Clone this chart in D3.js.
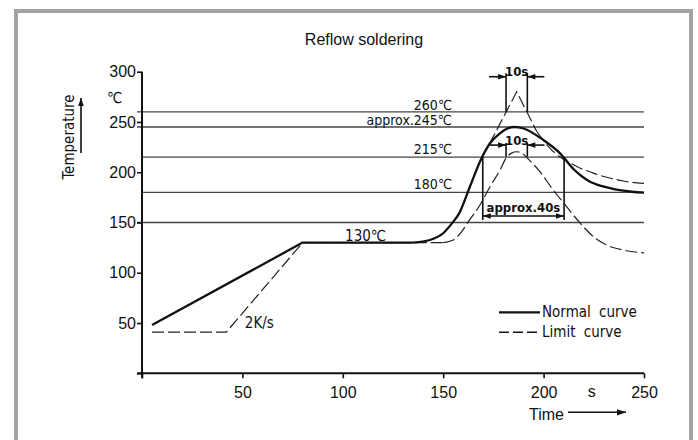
<!DOCTYPE html>
<html>
<head>
<meta charset="utf-8">
<script src="https://cdn.jsdelivr.net/npm/d3@7"></script>
<style>
  body { margin: 0; background: #fff; }
  svg { display: block; }
  .tick text { font-family: "Liberation Sans", Arial, sans-serif; font-size: 16px; fill: #111; }
  .note { font-family: "DejaVu Sans Condensed", "DejaVu Sans", sans-serif; font-size: 15px; fill: #111; }
  .level-note { font-size: 14px; }
</style>
</head>
<body>
<script>
// tick values
const xTicks = [0, 50, 100, 150, 200, 250];
const yTicks = [0, 50, 100, 150, 200, 250, 300];

// reference temperature levels and their labels
const levels = [260, 245, 215, 180, 150];
const levelLabels = [
  {t: 260, text: "260℃"},
  {t: 245, text: "approx.245℃"},
  {t: 215, text: "215℃"},
  {t: 180, text: "180℃"}
];

// normal curve: straight preheat part, then the smooth reflow part
const normalRamp = [[5, 48], [80, 130], [135, 130]];
const normalReflow = [[135, 130], [143.4, 132.6], [150, 139.3], [155, 150.8], [157.5, 157.5], [163.3, 185.6],
  [168.3, 210.5], [173.3, 228.8], [178.3, 238.7], [181, 242.5], [185.5, 245], [190, 243.5], [199.9, 232],
  [208.2, 218.8], [215, 203], [219, 196], [223.1, 190.6], [227, 187.5], [231.4, 185], [235, 183.2],
  [239.7, 181.6], [244, 180.6], [250, 179.8]];

// limit curve, upper branch (sharp peak, then tail)
const limitUpperPeak = [[173, 228], [186.6, 280], [196.6, 240.5]];
const limitUpperTail = [[196.6, 240.5], [203.2, 223.8], [208, 215.5], [213.5, 209], [218, 204.2],
  [223.1, 200.5], [227, 197.6], [231.4, 195], [235, 193.2], [239.7, 191.3], [244, 190], [250, 189]];

// limit curve, lower branch
const limitLowerRamp = [[5, 41], [42, 41], [80, 130], [150, 130]];
const limitLowerReflow = [[150, 130], [155, 132.6], [159.2, 140.9], [162.5, 150.8], [168.3, 167.4],
  [173.3, 185.6], [178.3, 202.2], [181.3, 214], [184, 219], [186.6, 220.4], [189.2, 219], [191.9, 214],
  [198.2, 200.5], [204.8, 182.3], [211.5, 165.7], [218.3, 149.2], [224.8, 135.9], [231.4, 127.6],
  [239.7, 122.6], [250, 119.8]];

// time windows marked on the chart
const peakWindow = [181.3, 191.9];
const liquidWindow = [169.7, 210.2];

const width = 698, height = 440;

const svg = d3.select("body").append("svg")
  .attr("width", width)
  .attr("height", height);

// grey frame, open at the bottom
svg.append("rect")
  .attr("x", 16).attr("y", 11)
  .attr("width", 675).attr("height", 450)
  .attr("fill", "none")
  .attr("stroke", "#a3a3a3")
  .attr("stroke-width", 4);

const x = d3.scaleLinear().domain([0, 250]).range([142, 644]);
const y = d3.scaleLinear().domain([0, 300]).range([373.3, 71.7]);

// title
svg.append("text")
  .attr("x", 364).attr("y", 45)
  .attr("text-anchor", "middle")
  .attr("font-family", "Liberation Sans, Arial, sans-serif")
  .attr("font-size", 16)
  .attr("fill", "#111")
  .text("Reflow soldering");

// horizontal level lines
svg.selectAll("line.level")
  .data(levels)
  .enter()
  .append("line")
  .attr("class", "level")
  .attr("x1", d => (d === 215 || d === 180) ? x(0) : x(0) - 5)
  .attr("x2", x(250))
  .attr("y1", d => y(d))
  .attr("y2", d => y(d))
  .attr("stroke", "#444")
  .attr("stroke-width", 1.4);

// axes
const xAxis = svg.append("g")
  .attr("transform", `translate(0,${y(0)})`)
  .call(d3.axisBottom(x).tickValues(xTicks).tickSize(5).tickPadding(8)
    .tickFormat(d => d === 0 ? "" : d));
const yAxis = svg.append("g")
  .attr("transform", `translate(${x(0)},0)`)
  .call(d3.axisLeft(y).tickValues(yTicks).tickSize(5).tickPadding(1)
    .tickFormat(d => d === 0 ? "" : d));

[xAxis, yAxis].forEach(g => {
  g.select(".domain").attr("stroke", "#111").attr("stroke-width", 2);
  g.selectAll(".tick line").attr("stroke", "#111").attr("stroke-width", 1.6);
});
xAxis.select(".domain").attr("d", `M${x(0) - 5},0H${x(250)}`);
yAxis.select(".domain").attr("d", `M0,${y(300)}V${y(0) + 5}`);

// curves
const straight = d3.line().x(d => x(d[0])).y(d => y(d[1]));
const smooth = d3.line().x(d => x(d[0])).y(d => y(d[1])).curve(d3.curveMonotoneX);

const dashed = "12,4";
[
  {data: limitLowerRamp, gen: straight},
  {data: limitLowerReflow, gen: smooth},
  {data: limitUpperPeak, gen: straight},
  {data: limitUpperTail, gen: smooth}
].forEach(s => {
  svg.append("path")
    .attr("d", s.gen(s.data))
    .attr("fill", "none")
    .attr("stroke", "#222")
    .attr("stroke-width", 1.2)
    .attr("stroke-dasharray", dashed);
});

[
  {data: normalRamp, gen: straight},
  {data: normalReflow, gen: smooth}
].forEach(s => {
  svg.append("path")
    .attr("d", s.gen(s.data))
    .attr("fill", "none")
    .attr("stroke", "#111")
    .attr("stroke-width", 2.3)
    .attr("stroke-linejoin", "round");
});

// level labels
svg.selectAll("text.levelLabel")
  .data(levelLabels)
  .enter()
  .append("text")
  .attr("class", "note level-note")
  .attr("x", x(154.4))
  .attr("y", d => y(d.t) - (d.t === 260 ? 2 : d.t === 245 ? 1.5 : 3.5))
  .attr("text-anchor", "end")
  .text(d => d.text);

svg.append("text").attr("class", "note")
  .attr("x", x(121.5)).attr("y", y(130) - 1.5)
  .attr("text-anchor", "end")
  .text("130℃");

svg.append("text").attr("class", "note")
  .attr("x", x(51.2)).attr("y", y(45))
  .text("2K/s");

svg.append("text").attr("class", "note")
  .attr("x", 107).attr("y", 103)
  .text("℃");

// arrow helper
function arrow(x1, y1, x2, y2, head) {
  svg.append("line")
    .attr("x1", x1).attr("y1", y1).attr("x2", x2).attr("y2", y2)
    .attr("stroke", "#111").attr("stroke-width", 1.6);
  const a = Math.atan2(y2 - y1, x2 - x1);
  const L = head, W = head * 0.35;
  const p = [
    [x2, y2],
    [x2 - L * Math.cos(a) + W * Math.sin(a), y2 - L * Math.sin(a) - W * Math.cos(a)],
    [x2 - L * Math.cos(a) - W * Math.sin(a), y2 - L * Math.sin(a) + W * Math.cos(a)]
  ];
  svg.append("path").attr("d", "M" + p.join("L") + "Z").attr("fill", "#111");
}

// 10 s window above 260 °C
peakWindow.forEach(t => {
  svg.append("line")
    .attr("x1", x(t)).attr("x2", x(t))
    .attr("y1", y(298.5)).attr("y2", y(260))
    .attr("stroke", "#111").attr("stroke-width", 1.6);
});
arrow(x(peakWindow[0] - 8.5), y(295), x(peakWindow[0]), y(295), 8);
arrow(x(peakWindow[1] + 8.5), y(295), x(peakWindow[1]), y(295), 8);
svg.append("text")
  .attr("x", x(186.6)).attr("y", y(295.5))
  .attr("text-anchor", "middle")
  .attr("font-family", "DejaVu Sans Condensed, DejaVu Sans, sans-serif")
  .attr("font-weight", "bold")
  .attr("font-size", 13)
  .attr("fill", "#111")
  .text("10s");

// 10 s window at the lower limit peak
peakWindow.forEach(t => {
  svg.append("line")
    .attr("x1", x(t)).attr("x2", x(t))
    .attr("y1", y(229)).attr("y2", y(215.5))
    .attr("stroke", "#111").attr("stroke-width", 1.6);
});
arrow(x(peakWindow[0] - 8.5), y(227), x(peakWindow[0]), y(227), 8);
arrow(x(peakWindow[1] + 8.5), y(227), x(peakWindow[1]), y(227), 8);
svg.append("text")
  .attr("x", x(186.6)).attr("y", y(227.5))
  .attr("text-anchor", "middle")
  .attr("font-family", "DejaVu Sans Condensed, DejaVu Sans, sans-serif")
  .attr("font-weight", "bold")
  .attr("font-size", 13)
  .attr("fill", "#111")
  .text("10s");

// approx. 40 s above 215 °C
liquidWindow.forEach(t => {
  svg.append("line")
    .attr("x1", x(t)).attr("x2", x(t))
    .attr("y1", y(215)).attr("y2", y(152.5))
    .attr("stroke", "#111").attr("stroke-width", 1.6);
});
const mid40 = (liquidWindow[0] + liquidWindow[1]) / 2;
arrow(x(mid40), y(156.5), x(liquidWindow[0]), y(156.5), 8);
arrow(x(mid40), y(156.5), x(liquidWindow[1]), y(156.5), 8);
svg.append("text")
  .attr("x", x(mid40)).attr("y", y(160.5))
  .attr("text-anchor", "middle")
  .attr("font-family", "DejaVu Sans Condensed, DejaVu Sans, sans-serif")
  .attr("font-weight", "bold")
  .attr("font-size", 13)
  .attr("fill", "#111")
  .text("approx.40s");

// axis titles
svg.append("text")
  .attr("transform", "translate(74,137) rotate(-90)")
  .attr("text-anchor", "middle")
  .attr("font-family", "DejaVu Sans Condensed, DejaVu Sans, sans-serif")
  .attr("font-size", 15)
  .attr("fill", "#111")
  .text("Temperature");
arrow(81, 153, 81, 98, 8);

svg.append("text")
  .attr("x", 529).attr("y", 420)
  .attr("font-family", "Liberation Sans, Arial, sans-serif")
  .attr("font-size", 16)
  .attr("fill", "#111")
  .text("Time");
arrow(568, 412.3, 626, 412.3, 9);

svg.append("text")
  .attr("x", x(224)).attr("y", 397)
  .attr("text-anchor", "middle")
  .attr("font-family", "Liberation Sans, Arial, sans-serif")
  .attr("font-size", 16)
  .attr("fill", "#111")
  .text("s");

// legend
const legend = [
  {label: "Normal curve", dash: null, w: 2.3},
  {label: "Limit curve", dash: "10,4", w: 1.4}
];
legend.forEach((d, i) => {
  const ly = 312.3 + i * 20;
  svg.append("line")
    .attr("x1", 499).attr("x2", 540)
    .attr("y1", ly).attr("y2", ly)
    .attr("stroke", "#111")
    .attr("stroke-width", d.w)
    .attr("stroke-dasharray", d.dash);
  svg.append("text").attr("class", "note")
    .attr("x", 542).attr("y", ly + 5)
    .attr("word-spacing", 4)
    .text(d.label);
});
</script>
</body>
</html>
